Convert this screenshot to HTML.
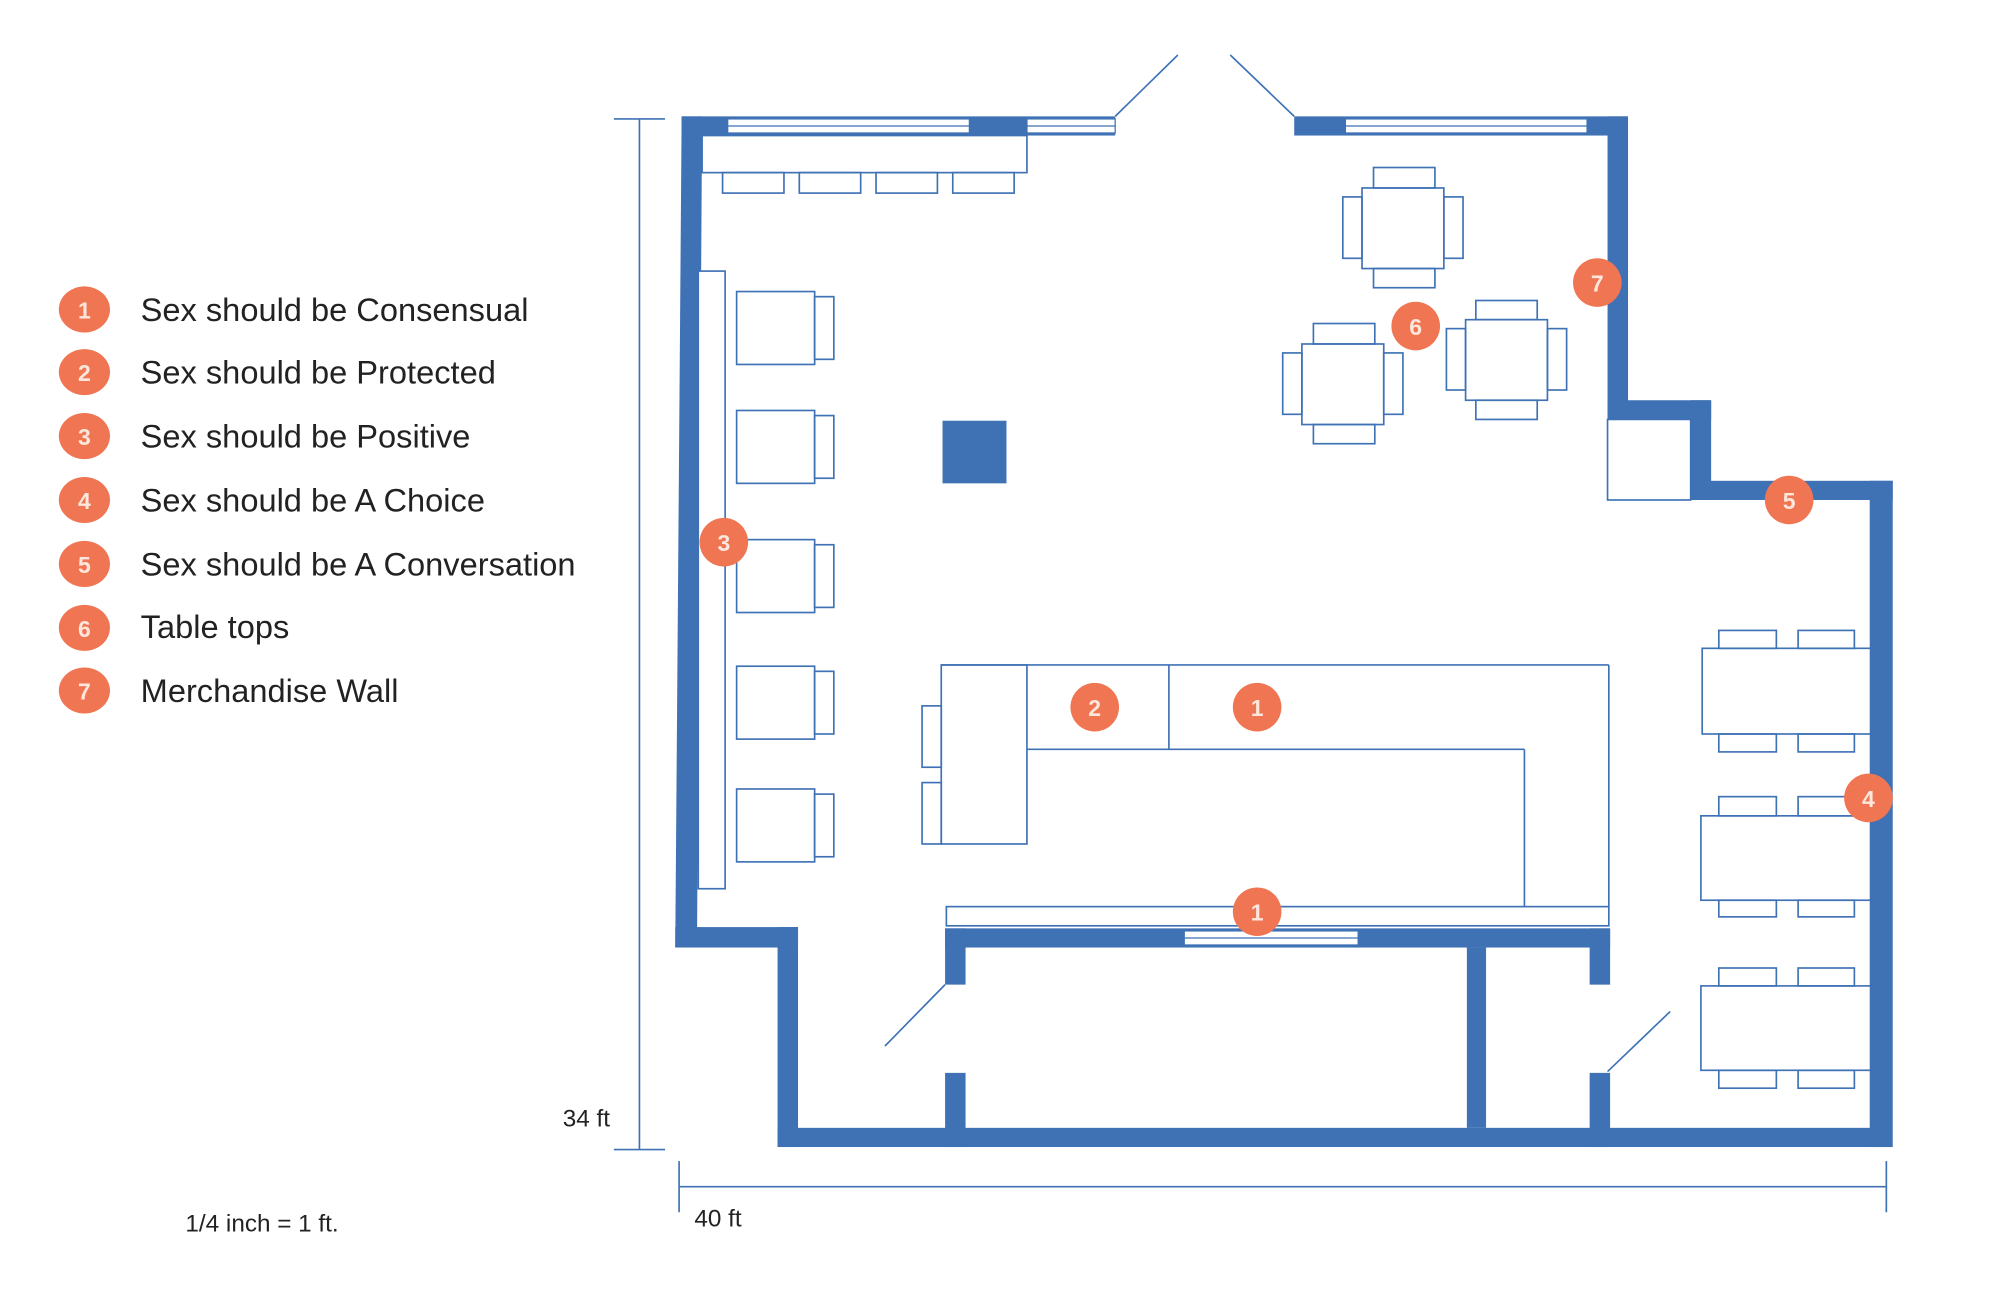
<!DOCTYPE html>
<html><head><meta charset="utf-8"><style>
html,body{margin:0;padding:0;background:#fff;}
svg{display:block;}
text{font-family:"Liberation Sans",sans-serif;}
</style></head><body>
<svg width="2004" height="1296" viewBox="0 0 1567 1013.5" preserveAspectRatio="none" xmlns="http://www.w3.org/2000/svg">
<rect width="1567" height="1014" fill="#fff"/>
<g fill="#3f72b5" stroke="none">
<rect x="533" y="91" width="339" height="15"/>
<polygon points="533,91 549,91 545,741 528,741"/>
<rect x="528" y="725" width="96" height="16"/>
<rect x="608" y="725" width="16" height="172"/>
<rect x="608" y="882" width="870" height="15"/>
<rect x="1462" y="376" width="18" height="521"/>
<rect x="1322" y="376" width="158" height="15"/>
<rect x="1322" y="313" width="16" height="78"/>
<rect x="1257" y="313" width="81" height="15"/>
<rect x="1257" y="91" width="16" height="237"/>
<rect x="1012" y="91" width="261" height="15"/>
<rect x="739" y="726" width="520" height="15"/>
<rect x="739" y="726" width="16" height="44"/>
<rect x="739" y="839" width="16" height="58"/>
<rect x="1147" y="741" width="15" height="141"/>
<rect x="1243" y="726" width="16" height="44"/>
<rect x="1243" y="839" width="16" height="58"/>
<rect x="737" y="329" width="50" height="49"/>
</g>
<g fill="#fff" stroke="#3f72b5" stroke-width="1">
<rect x="569" y="93" width="189" height="11"/>
<rect x="803" y="93" width="69" height="11"/>
<rect x="1052" y="93" width="189" height="11"/>
<rect x="926" y="728" width="136" height="11"/>
</g>
<g stroke="#3f72b5" stroke-width="1">
<line x1="569" y1="98.5" x2="758" y2="98.5"/>
<line x1="803" y1="98.5" x2="872" y2="98.5"/>
<line x1="1052" y1="98.5" x2="1241" y2="98.5"/>
<line x1="926" y1="733.5" x2="1062" y2="733.5"/>
</g>
<g stroke="#3f72b5" stroke-width="1.3" fill="none">
<line x1="872" y1="91" x2="921" y2="43"/>
<line x1="962" y1="43" x2="1012" y2="91"/>
<line x1="692" y1="818" x2="739" y2="770"/>
<line x1="1257" y1="838" x2="1306" y2="791"/>
<rect x="549" y="106" width="254" height="29" fill="#fff"/>
<rect x="565" y="135" width="48" height="16"/>
<rect x="625" y="135" width="48" height="16"/>
<rect x="685" y="135" width="48" height="16"/>
<rect x="745" y="135" width="48" height="16"/>
<rect x="546" y="212" width="21" height="483" fill="#fff"/>
<rect x="576" y="228" width="61" height="57"/><rect x="637" y="232" width="15" height="49"/>
<rect x="576" y="321" width="61" height="57"/><rect x="637" y="325" width="15" height="49"/>
<rect x="576" y="422" width="61" height="57"/><rect x="637" y="426" width="15" height="49"/>
<rect x="576" y="521" width="61" height="57"/><rect x="637" y="525" width="15" height="49"/>
<rect x="576" y="617" width="61" height="57"/><rect x="637" y="621" width="15" height="49"/>
<line x1="736" y1="520" x2="1258" y2="520"/>
<line x1="1258" y1="520" x2="1258" y2="709"/>
<line x1="803" y1="586" x2="1192" y2="586"/>
<line x1="1192" y1="586" x2="1192" y2="709"/>
<line x1="914" y1="520" x2="914" y2="586"/>
<rect x="736" y="520" width="67" height="140"/>
<rect x="721" y="552" width="15" height="48"/>
<rect x="721" y="612" width="15" height="48"/>
<rect x="740" y="709" width="518" height="15"/>
<rect x="1065" y="147" width="64" height="63"/>
<rect x="1074" y="131" width="48" height="16"/><rect x="1074" y="210" width="48" height="15"/>
<rect x="1050" y="154" width="15" height="48"/><rect x="1129" y="154" width="15" height="48"/>
<rect x="1018" y="269" width="64" height="63"/>
<rect x="1027" y="253" width="48" height="16"/><rect x="1027" y="332" width="48" height="15"/>
<rect x="1003" y="276" width="15" height="48"/><rect x="1082" y="276" width="15" height="48"/>
<rect x="1146" y="250" width="64" height="63"/>
<rect x="1154" y="235" width="48" height="15"/><rect x="1154" y="313" width="48" height="15"/>
<rect x="1131" y="257" width="15" height="48"/><rect x="1210" y="257" width="15" height="48"/>
<rect x="1257" y="328" width="65" height="63" fill="#fff"/>
<rect x="1331" y="507" width="132" height="67"/>
<rect x="1344" y="493" width="45" height="14"/><rect x="1406" y="493" width="44" height="14"/>
<rect x="1344" y="574" width="45" height="14"/><rect x="1406" y="574" width="44" height="14"/>
<rect x="1330" y="638" width="133" height="66"/>
<rect x="1344" y="623" width="45" height="15"/><rect x="1406" y="623" width="44" height="15"/>
<rect x="1344" y="704" width="45" height="13"/><rect x="1406" y="704" width="44" height="13"/>
<rect x="1330" y="771" width="133" height="66"/>
<rect x="1344" y="757" width="45" height="14"/><rect x="1406" y="757" width="44" height="14"/>
<rect x="1344" y="837" width="45" height="14"/><rect x="1406" y="837" width="44" height="14"/>
<line x1="500" y1="93" x2="500" y2="899"/>
<line x1="480" y1="93" x2="520" y2="93"/>
<line x1="480" y1="899" x2="520" y2="899"/>
<line x1="531" y1="928" x2="1475" y2="928"/>
<line x1="531" y1="908" x2="531" y2="948"/>
<line x1="1475" y1="908" x2="1475" y2="948"/>
</g>
<g fill="#f07552">
<circle cx="983" cy="553" r="19"/><circle cx="856" cy="553" r="19"/>
<circle cx="983" cy="713" r="19"/><circle cx="566" cy="424" r="19"/>
<circle cx="1461" cy="624" r="19"/><circle cx="1399" cy="391" r="19"/>
<circle cx="1107" cy="255" r="19"/><circle cx="1249" cy="221" r="19"/>
<ellipse cx="66" cy="242" rx="20" ry="18"/><ellipse cx="66" cy="291" rx="20" ry="18"/>
<ellipse cx="66" cy="341" rx="20" ry="18"/><ellipse cx="66" cy="391" rx="20" ry="18"/>
<ellipse cx="66" cy="441" rx="20" ry="18"/><ellipse cx="66" cy="491" rx="20" ry="18"/>
<ellipse cx="66" cy="540" rx="20" ry="18"/>
</g>
<g fill="#fde6dc" font-size="18" font-weight="bold" text-anchor="middle">
<text x="983" y="560">1</text><text x="856" y="560">2</text>
<text x="983" y="720">1</text><text x="566" y="431">3</text>
<text x="1461" y="631">4</text><text x="1399" y="398">5</text>
<text x="1107" y="262">6</text><text x="1249" y="228">7</text>
<text x="66" y="249">1</text><text x="66" y="298">2</text><text x="66" y="348">3</text>
<text x="66" y="398">4</text><text x="66" y="448">5</text><text x="66" y="498">6</text>
<text x="66" y="547">7</text>
</g>
<g fill="#222" font-size="25.5">
<text x="110" y="251">Sex should be Consensual</text>
<text x="110" y="300">Sex should be Protected</text>
<text x="110" y="350">Sex should be Positive</text>
<text x="110" y="400">Sex should be A Choice</text>
<text x="110" y="450">Sex should be A Conversation</text>
<text x="110" y="499">Table tops</text>
<text x="110" y="549">Merchandise Wall</text>
</g>
<g fill="#222" font-size="19">
<text x="440" y="881">34 ft</text>
<text x="543" y="959">40 ft</text>
<text x="145" y="963">1/4 inch = 1 ft.</text>
</g>
</svg>
</body></html>
